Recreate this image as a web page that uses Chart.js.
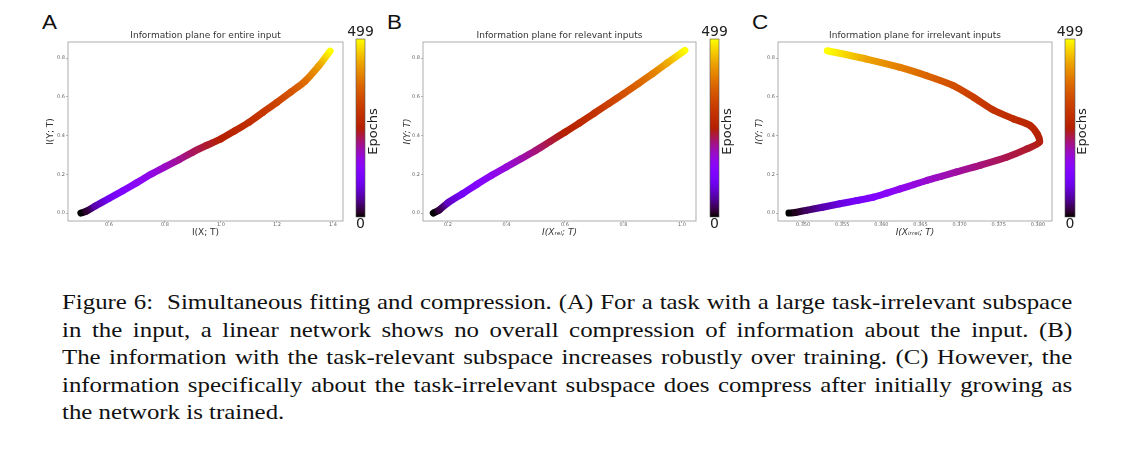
<!DOCTYPE html>
<html>
<head>
<meta charset="utf-8">
<script src="https://cdn.jsdelivr.net/npm/chart.js@4.4.1/dist/chart.umd.min.js"></script>
<style>
  body { margin: 0; background: #fff; width: 1132px; height: 458px; position: relative; overflow: hidden; }
  canvas { position: absolute; }
  .letter { position: absolute; font-family: 'Liberation Sans', Arial, sans-serif; font-size: 19.5px; line-height: 1; color: #111; transform: scaleX(1.15); transform-origin: 0 0; }
  #caption { position: absolute; left: 62px; top: 288px; width: 894px; font-family: 'Liberation Serif', 'Times New Roman', serif; font-size: 22px; line-height: 27.6px; color: #111; transform: scaleX(1.13); transform-origin: 0 0; }
  #caption div { text-align: justify; text-align-last: justify; white-space: nowrap; }
  #caption div.last { text-align-last: left; }
</style>
</head>
<body>
<div class="letter" style="left:42px;top:12.5px">A</div>
<div class="letter" style="left:387px;top:12.5px">B</div>
<div class="letter" style="left:752px;top:12.5px">C</div>

<canvas id="panelA" width="340" height="225" style="left:40px;top:20px"></canvas>
<canvas id="panelB" width="358" height="225" style="left:380px;top:20px"></canvas>
<canvas id="panelC" width="360" height="225" style="left:740px;top:20px"></canvas>

<div id="caption">
  <div>Figure 6:&nbsp; Simultaneous fitting and compression. (A) For a task with a large task-irrelevant subspace</div>
  <div>in the input, a linear network shows no overall compression of information about the input. (B)</div>
  <div>The information with the task-relevant subspace increases robustly over training. (C) However, the</div>
  <div>information specifically about the task-irrelevant subspace does compress after initially growing as</div>
  <div class="last">the network is trained.</div>
</div>

<script>
const FONT = "'DejaVu Sans', sans-serif";
const maxEpoch = 499;
const cbTicks = [0, 499];
const yTicks = [0.0, 0.2, 0.4, 0.6, 0.8];

// A: entire input
const aX = [0.50, 0.52, 0.55, 0.60, 0.65, 0.70, 0.75, 0.80, 0.85, 0.90, 0.95, 1.00, 1.05, 1.10, 1.15, 1.20, 1.25, 1.30, 1.35, 1.39];
const aY = [0.000, 0.010, 0.035, 0.075, 0.115, 0.157, 0.200, 0.238, 0.275, 0.315, 0.350, 0.383, 0.425, 0.468, 0.520, 0.571, 0.625, 0.680, 0.760, 0.836];
const aEpoch = [0, 15, 60, 100, 125, 145, 160, 180, 200, 220, 235, 250, 265, 280, 300, 320, 345, 375, 425, 499];
const aXTicks = [0.6, 0.8, 1.0, 1.2, 1.4];

// B: relevant inputs
const bX = [0.15, 0.17, 0.20, 0.25, 0.30, 0.35, 0.40, 0.45, 0.50, 0.55, 0.60, 0.65, 0.70, 0.75, 0.80, 0.85, 0.90, 0.95, 1.01];
const bY = [0.000, 0.015, 0.053, 0.100, 0.149, 0.195, 0.238, 0.280, 0.323, 0.370, 0.417, 0.465, 0.515, 0.565, 0.615, 0.667, 0.720, 0.775, 0.840];
const bEpoch = [0, 20, 70, 105, 130, 150, 170, 190, 210, 230, 250, 270, 290, 315, 340, 365, 395, 435, 499];
const bXTicks = [0.2, 0.4, 0.6, 0.8, 1.0];

// C: irrelevant inputs
const cX = [0.3482, 0.3490, 0.3504, 0.3525, 0.3547, 0.3568, 0.3590, 0.3607, 0.3624, 0.3641, 0.3658, 0.3677, 0.3696, 0.3726, 0.3760, 0.3786, 0.3802, 0.3799, 0.3790, 0.3769, 0.3743, 0.3718, 0.3692, 0.3658, 0.3624, 0.3581, 0.3531];
const cY = [0.000, 0.003, 0.014, 0.030, 0.048, 0.064, 0.082, 0.103, 0.125, 0.146, 0.168, 0.190, 0.212, 0.246, 0.288, 0.331, 0.366, 0.409, 0.452, 0.486, 0.532, 0.597, 0.658, 0.709, 0.752, 0.795, 0.838];
const cEpoch = [0, 8, 30, 60, 85, 105, 125, 140, 155, 165, 175, 185, 195, 210, 225, 235, 245, 255, 265, 275, 290, 310, 335, 365, 395, 430, 499];
const cXTicks = [0.350, 0.355, 0.360, 0.365, 0.370, 0.375, 0.380];

// matplotlib "gnuplot" colormap
function gnuplot(t) {
  t = Math.min(1, Math.max(0, t));
  const r = Math.sqrt(t), g = t * t * t, b = Math.max(0, Math.sin(2 * Math.PI * t));
  return `rgb(${Math.round(r * 255)},${Math.round(g * 255)},${Math.round(b * 255)})`;
}

const framePlugin = {
  id: 'frame',
  afterDatasetsDraw(chart) {
    const { ctx, chartArea: a } = chart;
    ctx.save();
    ctx.strokeStyle = '#999';
    ctx.lineWidth = 0.8;
    ctx.strokeRect(a.left, a.top, a.right - a.left, a.bottom - a.top);
    ctx.restore();
  }
};

const colorbarPlugin = {
  id: 'colorbar',
  afterDraw(chart, args, o) {
    const { ctx, chartArea: a } = chart;
    const x0 = a.right + o.gap, top = a.top - 3, bottom = a.bottom - 4, w = o.width;
    const g = ctx.createLinearGradient(0, bottom, 0, top);
    for (let i = 0; i <= 50; i++) g.addColorStop(i / 50, gnuplot(i / 50));
    ctx.save();
    ctx.fillStyle = g;
    ctx.fillRect(x0, top, w, bottom - top);
    ctx.strokeStyle = '#555';
    ctx.lineWidth = 0.6;
    ctx.strokeRect(x0, top, w, bottom - top);
    ctx.fillStyle = '#222';
    ctx.font = '14px ' + FONT;
    ctx.textAlign = 'center';
    ctx.textBaseline = 'middle';
    ctx.fillText(String(cbTicks[1]), x0 + w / 2, top - 7);
    ctx.fillText(String(cbTicks[0]), x0 + w / 2, bottom + 7);
    ctx.translate(a.right + o.labelOff, (a.top + a.bottom) / 2);
    ctx.rotate(-Math.PI / 2);
    ctx.font = '13px ' + FONT;
    ctx.fillText('Epochs', 0, 0);
    ctx.restore();
  }
};

function makePanel(id, p) {
  const data = p.xs.map((x, i) => ({ x: x, y: p.ys[i] }));
  new Chart(document.getElementById(id), {
    type: 'line',
    data: {
      datasets: [{
        data: data,
        borderWidth: 7,
        borderCapStyle: 'round',
        borderJoinStyle: 'round',
        pointRadius: 0,
        tension: 0.25,
        segment: {
          borderColor: c => {
            const g = c.chart.ctx.createLinearGradient(c.p0.x, c.p0.y, c.p1.x + 0.01, c.p1.y + 0.01);
            g.addColorStop(0, gnuplot(p.epochs[c.p0DataIndex] / maxEpoch));
            g.addColorStop(1, gnuplot(p.epochs[c.p1DataIndex] / maxEpoch));
            return g;
          }
        }
      }]
    },
    options: {
      responsive: false,
      animation: false,
      layout: { padding: { left: p.padLeft, right: p.padRight, top: 0, bottom: 0 } },
      scales: {
        x: {
          type: 'linear',
          min: p.xMin,
          max: p.xMax,
          afterBuildTicks: s => { s.ticks = p.xTicks.map(v => ({ value: v })); },
          afterFit: s => { s.height = 24; },
          grid: { drawOnChartArea: false, tickLength: 2, color: '#888', tickWidth: 0.6 },
          border: { display: false },
          ticks: { font: { size: 5, family: FONT }, color: '#666', padding: -1, maxRotation: 0, autoSkip: false,
                   callback: v => v.toFixed(p.xDec) },
          title: { display: true, text: p.xLabel, color: '#333', padding: { top: 0, bottom: 7 },
                   font: { size: 9, family: FONT, style: p.italic ? 'italic' : 'normal' } }
        },
        y: {
          type: 'linear',
          min: -0.041,
          max: 0.883,
          afterBuildTicks: s => { s.ticks = yTicks.map(v => ({ value: v })); },
          afterFit: s => { s.width = 28; },
          grid: { drawOnChartArea: false, tickLength: 2, color: '#888', tickWidth: 0.6 },
          border: { display: false },
          ticks: { font: { size: 5, family: FONT }, color: '#666', padding: 1, autoSkip: false,
                   callback: v => v.toFixed(1) },
          title: { display: true, text: 'I(Y; T)', color: '#333', padding: { top: p.yTitlePad, bottom: 0 },
                   font: { size: 9, family: FONT, style: p.italic ? 'italic' : 'normal' } }
        }
      },
      plugins: {
        legend: { display: false },
        tooltip: { enabled: false },
        title: { display: true, text: p.title, fullSize: false, color: '#333',
                 font: { size: 9, family: FONT, weight: 'normal' }, padding: { top: 10.6, bottom: 0.6 } },
        colorbar: { gap: p.cbGap, width: p.cbWidth, labelOff: p.labelOff }
      }
    },
    plugins: [framePlugin, colorbarPlugin]
  });
}

makePanel('panelA', {
  xs: aX, ys: aY, epochs: aEpoch, xTicks: aXTicks, xMin: 0.454, xMax: 1.436, xDec: 1,
  xLabel: 'I(X; T)', italic: false, title: 'Information plane for entire input',
  padLeft: 0, padRight: 37, yTitlePad: 5.6, cbGap: 13, cbWidth: 9, labelOff: 31
});
makePanel('panelB', {
  xs: bX, ys: bY, epochs: bEpoch, xTicks: bXTicks, xMin: 0.115, xMax: 1.048, xDec: 1,
  xLabel: 'I(Xᵣₑₗ; T)', italic: true, title: 'Information plane for relevant inputs',
  padLeft: 15, padRight: 42, yTitlePad: 7.6, cbGap: 14, cbWidth: 9, labelOff: 32
});
makePanel('panelC', {
  xs: cX, ys: cY, epochs: cEpoch, xTicks: cXTicks, xMin: 0.3468, xMax: 0.3818, xDec: 3,
  xLabel: 'I(Xᵢᵣᵣₑₗ; T)', italic: true, title: 'Information plane for irrelevant inputs',
  padLeft: 10, padRight: 48, yTitlePad: 4.6, cbGap: 13, cbWidth: 10, labelOff: 31
});
</script>
</body>
</html>
